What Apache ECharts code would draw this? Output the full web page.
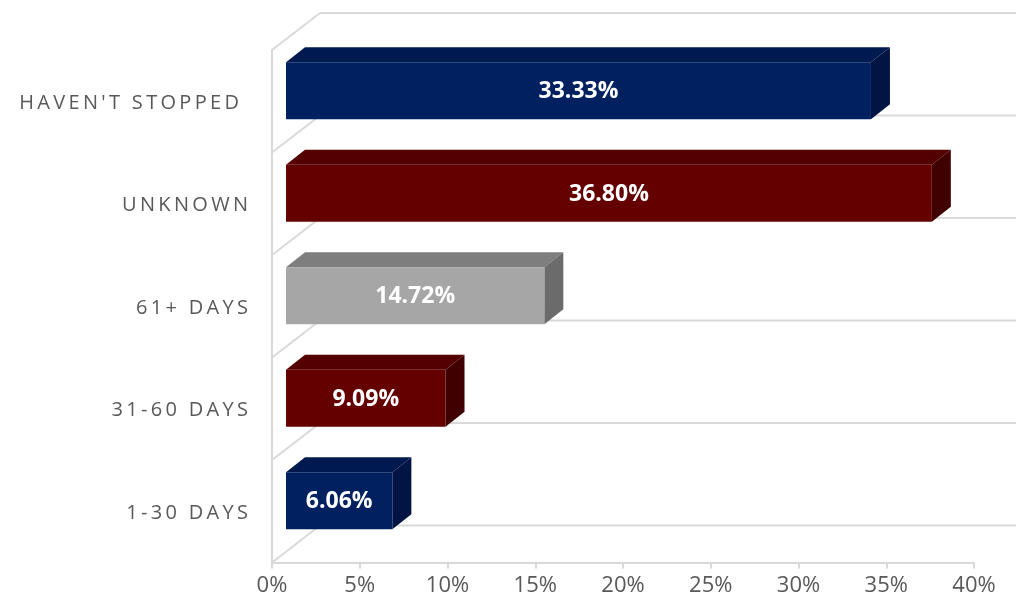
<!DOCTYPE html>
<html>
<head>
<meta charset="utf-8">
<script src="https://cdn.jsdelivr.net/npm/echarts@6/dist/echarts.min.js"></script>
<style>
  html, body { margin: 0; padding: 0; background: #ffffff; }
  #chart { width: 1016px; height: 603px; }
</style>
</head>
<body>
<div id="chart"></div>
<script>
// ---- data (bottom to top) ----
const categories = ['1-30 DAYS', '31-60 DAYS', '61+ DAYS', 'UNKNOWN', "HAVEN'T STOPPED"];
const values = [6.06, 9.09, 14.72, 36.80, 33.33];
const barColorKeys = ['navy', 'red', 'gray', 'red', 'navy'];
const xMin = 0, xMax = 40, xStep = 5;

// ---- styles ----
const palette = {
  navy: { front: '#002060', top: '#001a4f', side: '#001544' },
  red:  { front: '#650000', top: '#540000', side: '#400000' },
  gray: { front: '#a6a6a6', top: '#7e7e7e', side: '#6b6b6b' }
};
const GRID = '#d9d9d9';
const TEXT = '#595959';
const WALL_DX = 48, WALL_DY = -37;   // full depth of the 3D box
const BAR_FX = 14, BAR_FY = -10.5;   // bar front face set back from front plane
const BAR_DX = 19, BAR_DY = -15;     // bar depth
const BAR_RATIO = 0.556;

function spaced(s) {
  return s.split('').join('\u2009');
}

const chart = echarts.init(document.getElementById('chart'), null, { renderer: 'canvas' });

const option = {
  animation: false,
  backgroundColor: '#ffffff',
  grid: { left: 272, right: 42, top: 50, bottom: 40.5, containLabel: false },
  xAxis: {
    type: 'value',
    min: xMin, max: xMax, interval: xStep,
    splitLine: { show: false },
    axisLine: { show: true, lineStyle: { color: GRID, width: 2 } },
    axisTick: { show: true, length: 6, lineStyle: { color: GRID, width: 2 } },
    axisLabel: {
      formatter: '{value}%',
      color: TEXT, fontFamily: 'Open Sans', fontSize: 22, margin: 12
    }
  },
  yAxis: {
    type: 'category',
    data: categories,
    axisLine: { show: true, lineStyle: { color: GRID, width: 2 } },
    axisTick: { show: false },
    splitLine: { show: false },
    axisLabel: {
      color: TEXT, fontFamily: 'Open Sans', fontSize: 20, margin: 24,
      formatter: function (v) {
        if (v === "HAVEN'T STOPPED") return '{h|' + spaced(v) + '}';
        return '{n|' + spaced(v) + '}';
      },
      rich: {
        h: { color: TEXT, fontFamily: 'Open Sans', fontSize: 20, padding: [4, 9, 0, 0] },
        n: { color: TEXT, fontFamily: 'Open Sans', fontSize: 20, padding: [4, 0, 0, 0] }
      }
    }
  },
  series: [
    {
      type: 'custom',
      name: 'walls',
      z: 1,
      clip: false,
      silent: true,
      data: categories.map((c, i) => [0, i]),
      encode: { x: 0, y: 1 },
      renderItem: function (params, api) {
        const i = api.value(1);
        const c = api.coord([xMin, i]);
        const band = api.size([0, 1])[1];
        const xL = c[0];
        const xR = api.coord([xMax, i])[0];
        const bounds = [c[1] - band / 2];
        if (i === 0) bounds.push(c[1] + band / 2);
        const children = [];
        bounds.forEach(function (b) {
          children.push({
            type: 'line',
            shape: { x1: xL, y1: b, x2: xL + WALL_DX, y2: b + WALL_DY },
            style: { stroke: GRID, lineWidth: 2 }
          });
          children.push({
            type: 'line',
            shape: { x1: xL + WALL_DX, y1: b + WALL_DY, x2: xR + WALL_DX, y2: b + WALL_DY },
            style: { stroke: GRID, lineWidth: 2 }
          });
        });
        return { type: 'group', children: children };
      }
    },
    {
      type: 'custom',
      name: 'bars',
      z: 2,
      clip: false,
      data: values.map((v, i) => [v, i]),
      encode: { x: 0, y: 1 },
      renderItem: function (params, api) {
        const v = api.value(0);
        const i = api.value(1);
        const start = api.coord([0, i]);
        const end = api.coord([v, i]);
        const band = api.size([0, 1])[1];
        const h = band * BAR_RATIO;
        const x0 = start[0] + BAR_FX;
        const x1 = end[0] + BAR_FX;
        const cy = start[1] + BAR_FY;
        const yt = cy - h / 2, yb = cy + h / 2;
        const col = palette[barColorKeys[i]];
        return {
          type: 'group',
          children: [
            {
              type: 'polygon',
              shape: { points: [[x0, yt], [x1, yt], [x1 + BAR_DX, yt + BAR_DY], [x0 + BAR_DX, yt + BAR_DY]] },
              style: { fill: col.top }
            },
            {
              type: 'polygon',
              shape: { points: [[x1, yt], [x1 + BAR_DX, yt + BAR_DY], [x1 + BAR_DX, yb + BAR_DY], [x1, yb]] },
              style: { fill: col.side }
            },
            {
              type: 'rect',
              shape: { x: x0, y: yt, width: x1 - x0, height: h },
              style: { fill: col.front }
            },
            {
              type: 'text',
              x: (x0 + x1) / 2,
              y: cy + 1,
              style: {
                text: v.toFixed(2) + '%',
                fill: '#ffffff',
                font: 'bold 23px "Open Sans"',
                align: 'center',
                verticalAlign: 'middle'
              }
            }
          ]
        };
      }
    }
  ]
};

chart.setOption(option);
</script>
</body>
</html>
